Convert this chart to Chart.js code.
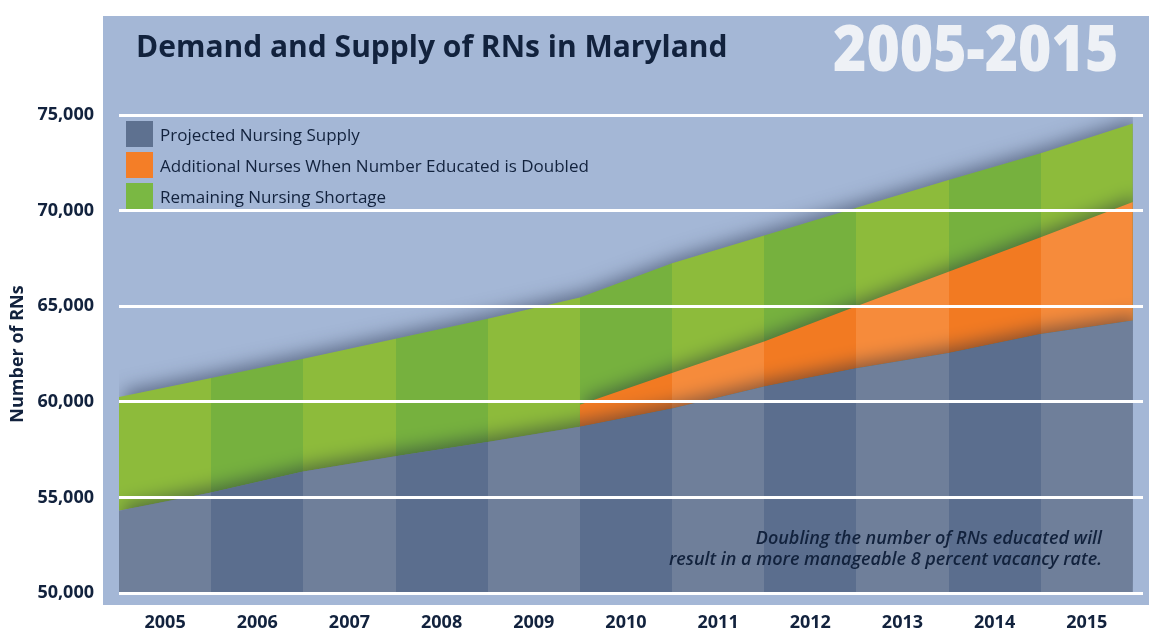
<!DOCTYPE html>
<html>
<head>
<meta charset="utf-8">
<script src="https://cdn.jsdelivr.net/npm/chart.js@4.4.1/dist/chart.umd.min.js"></script>
<style>
  html, body { margin: 0; padding: 0; background: #fff; }
  #wrap { position: relative; width: 1149px; height: 630px; overflow: hidden; font-family: "Open Sans", sans-serif; color: #12223d; }
  #panel { position: absolute; left: 103px; top: 16px; width: 1046px; height: 589px; background: #a4b7d6; }
  #chart { position: absolute; left: 0; top: 0; }
  .title { position: absolute; left: 136px; top: 31px; font-size: 30px; font-weight: 700; line-height: 1; white-space: nowrap; }
  .range { position: absolute; left: 833px; top: 15px; font-size: 64px; font-weight: 800; line-height: 1; color: #eef1f6; white-space: nowrap; transform-origin: 0 0; }
  #legend { position: absolute; left: 126px; top: 121px; }
  .item { display: flex; align-items: center; height: 26px; margin-bottom: 5px; font-size: 17px; white-space: nowrap; }
  .item span.box { width: 27px; height: 26px; margin-right: 7px; }
  .note { position: absolute; right: 47px; top: 527px; font-size: 18px; font-weight: 600; font-style: italic; line-height: 21px; text-align: right; white-space: nowrap; }
</style>
</head>
<body>
<div id="wrap">
  <div id="panel"></div>
  <canvas id="chart" width="1149" height="630"></canvas>
  <div class="title">Demand and Supply of RNs in Maryland</div>
  <div class="range" id="range">2005-2015</div>
  <div id="legend"></div>
  <div class="note">Doubling the number of RNs educated will<br>result in a more manageable 8 percent vacancy rate.</div>
</div>
<script>
// year columns and the column edges the values are read at
const years = [2005, 2006, 2007, 2008, 2009, 2010, 2011, 2012, 2013, 2014, 2015]
const edges = [2004.5, 2005.5, 2006.5, 2007.5, 2008.5, 2009.5, 2010.5, 2011.5, 2012.5, 2013.5, 2014.5, 2015.5]

// number of RNs at each edge
const supply = [54300, 55250, 56350, 57150, 57900, 58700, 59650, 60800, 61750, 62550, 63550, 64250]
const withDoubling = [null, null, null, null, null, 59850, 61500, 63150, 65000, 66800, 68600, 70450]
const demand = [60250, 61250, 62250, 63300, 64350, 65450, 67250, 68700, 70150, 71600, 73000, 74550]

const yTicks = [50000, 55000, 60000, 65000, 70000, 75000]
const labels = ['Projected Nursing Supply', 'Additional Nurses When Number Educated is Doubled', 'Remaining Nursing Shortage']
const legendColors = ['#5e7190', '#f47e27', '#7ab843']

const navy = '#12223d'

function points(values) {
  return edges
    .map((x, i) => ({ x, y: values[i] }))
    .filter((p) => p.y !== null)
}

// alternating light / dark year columns
function stripes(chart, light, dark) {
  const x = chart.scales.x
  if (!chart.chartArea || !x) return light
  const x0 = x.getPixelForValue(edges[0])
  const x1 = x.getPixelForValue(edges[edges.length - 1])
  const g = chart.ctx.createLinearGradient(x0, 0, x1, 0)
  for (let i = 0; i < years.length; i++) {
    const a = Math.min(1, Math.max(0, (x.getPixelForValue(edges[i]) - x0) / (x1 - x0)))
    const b = Math.min(1, Math.max(0, (x.getPixelForValue(edges[i + 1]) - x0) / (x1 - x0)))
    const c = i % 2 === 0 ? light : dark
    g.addColorStop(a, c)
    g.addColorStop(b, c)
  }
  return g
}

const shadow = {
  id: 'shadow',
  beforeDatasetsDraw(chart) {
    const ctx = chart.ctx
    ctx.save()
    ctx.shadowColor = 'rgba(25, 35, 60, 0.5)'
    ctx.shadowBlur = 18
    ctx.shadowOffsetX = 5
    ctx.shadowOffsetY = -6
  },
  afterDatasetsDraw(chart) {
    chart.ctx.restore()
  },
}

const chart = new Chart(document.getElementById('chart'), {
  type: 'line',
  data: {
    datasets: [
      {
        label: labels[0],
        data: points(supply),
        fill: 'start',
        backgroundColor: (c) => stripes(c.chart, '#6f7f9a', '#5b6e8e'),
      },
      {
        label: labels[1],
        data: points(withDoubling),
        fill: 0,
        backgroundColor: (c) => stripes(c.chart, '#f68b3b', '#f27a22'),
      },
      {
        label: labels[2],
        data: points(demand),
        fill: 0,
        backgroundColor: (c) => stripes(c.chart, '#8dbb3b', '#76b13e'),
      },
    ],
  },
  options: {
    responsive: false,
    animation: false,
    locale: 'en-US',
    elements: {
      line: { borderWidth: 0, tension: 0 },
      point: { radius: 0 },
    },
    layout: { padding: { top: 115, right: 6, left: 0, bottom: 0 } },
    plugins: {
      legend: { display: false },
      tooltip: { enabled: false },
    },
    scales: {
      x: {
        type: 'linear',
        min: edges[0],
        max: 2015.61,
        grid: { display: false },
        border: { display: false },
        afterBuildTicks: (axis) => {
          axis.ticks = years.map((v) => ({ value: v }))
        },
        afterFit: (scale) => {
          scale.height = 37
        },
        ticks: {
          callback: (v) => String(v),
          autoSkip: false,
          maxRotation: 0,
          padding: 11,
          color: navy,
          font: { family: 'Open Sans', size: 18, weight: 'bold' },
        },
      },
      y: {
        min: 50000,
        max: 75000,
        afterBuildTicks: (axis) => {
          axis.ticks = yTicks.map((v) => ({ value: v }))
        },
        afterFit: (scale) => {
          scale.width = 119
        },
        grid: { color: '#ffffff', lineWidth: 3, drawTicks: false, z: 1 },
        border: { display: false },
        ticks: {
          padding: 25,
          color: navy,
          font: { family: 'Open Sans', size: 18, weight: 'bold' },
        },
        title: {
          display: true,
          text: 'Number of RNs',
          color: navy,
          padding: { top: 7, bottom: 0 },
          font: { family: 'Open Sans', size: 18, weight: 'bold' },
        },
      },
    },
  },
  plugins: [shadow],
})

// legend built from the datasets
const legend = document.getElementById('legend')
chart.data.datasets.forEach((ds, i) => {
  const row = document.createElement('div')
  row.className = 'item'
  const box = document.createElement('span')
  box.className = 'box'
  box.style.background = legendColors[i]
  row.appendChild(box)
  row.appendChild(document.createTextNode(ds.label))
  legend.appendChild(row)
})

// squeeze the big year range to its width in the picture
const range = document.getElementById('range')
range.style.transform = 'scaleX(' + (285 / range.offsetWidth) + ')'
</script>
</body>
</html>
